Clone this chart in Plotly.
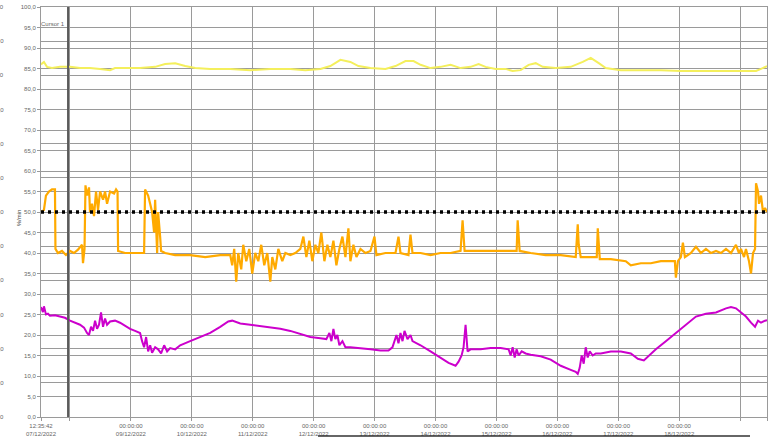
import numpy as np
import pandas as pd
import plotly.graph_objects as go

# time axis values are "day of December 2022" (fractional)
start_time = "2022-12-07 12:35:42"
end_time = "2022-12-19 10:34:00"
cursor_time = "2022-12-07 23:15:00"
limit_value = 50.0

yellow_day = [7.524, 7.573, 7.623, 7.705, 7.836, 8.001, 8.165, 8.329, 8.494, 8.658, 8.740, 8.905,
              9.151, 9.398, 9.562, 9.727, 9.891, 10.055, 10.302, 10.631, 10.959, 11.288, 11.617,
              11.863, 12.110, 12.274, 12.439, 12.603, 12.735, 12.932, 13.178, 13.343, 13.507,
              13.639, 13.754, 13.918, 14.082, 14.247, 14.411, 14.575, 14.707, 14.822, 14.986,
              15.150, 15.265, 15.397, 15.528, 15.644, 15.759, 15.973, 16.219, 16.416, 16.548,
              16.679, 16.794, 17.041, 17.370, 17.698, 18.027, 18.356, 18.685, 19.013, 19.260,
              19.342, 19.441]
yellow_val = [86.0, 86.6, 85.4, 85.1, 85.4, 85.4, 85.1, 85.1, 84.9, 84.6, 85.1, 85.1,
              85.1, 85.4, 86.1, 86.3, 85.6, 85.1, 84.9, 84.9, 84.6, 84.9, 84.9,
              84.6, 84.9, 85.6, 87.1, 86.6, 85.6, 85.1, 84.9, 85.6, 86.8,
              86.8, 85.9, 85.1, 85.4, 85.9, 85.1, 85.4, 86.1, 85.4, 84.9,
              84.9, 84.4, 84.6, 85.9, 86.3, 85.4, 85.1, 85.4, 86.6, 87.6,
              86.3, 85.1, 84.6, 84.6, 84.6, 84.4, 84.4, 84.4, 84.4, 84.4,
              84.9, 85.6]

orange_day = [7.524, 7.573, 7.606, 7.655, 7.705, 7.754, 7.762, 7.803, 7.869, 7.935, 8.001, 8.066,
              8.132, 8.198, 8.214, 8.239, 8.255, 8.280, 8.313, 8.329, 8.362, 8.395, 8.428, 8.461,
              8.494, 8.543, 8.576, 8.609, 8.658, 8.724, 8.757, 8.781, 8.790, 8.905, 9.069, 9.217,
              9.233, 9.283, 9.316, 9.348, 9.381, 9.398, 9.431, 9.447, 9.480, 9.496, 9.562, 9.727,
              9.973, 10.220, 10.466, 10.631, 10.663, 10.696, 10.729, 10.762, 10.811, 10.844,
              10.894, 10.943, 10.992, 11.041, 11.091, 11.140, 11.189, 11.239, 11.288, 11.321,
              11.370, 11.420, 11.485, 11.535, 11.617, 11.699, 11.781, 11.831, 11.880, 11.929,
              11.978, 12.028, 12.077, 12.126, 12.176, 12.225, 12.274, 12.324, 12.373, 12.422,
              12.472, 12.521, 12.570, 12.603, 12.652, 12.702, 12.768, 12.850, 12.932, 12.998,
              13.030, 13.178, 13.343, 13.392, 13.425, 13.556, 13.589, 13.622, 13.754, 13.918,
              14.082, 14.247, 14.411, 14.444, 14.477, 14.740, 15.068, 15.331, 15.348, 15.381,
              15.562, 15.808, 16.055, 16.301, 16.334, 16.350, 16.383, 16.548, 16.646, 16.663,
              16.696, 16.877, 17.123, 17.205, 17.370, 17.534, 17.698, 17.928, 17.945, 17.978,
              18.027, 18.060, 18.093, 18.192, 18.274, 18.356, 18.438, 18.521, 18.603, 18.685,
              18.767, 18.849, 18.931, 18.980, 19.013, 19.063, 19.095, 19.145, 19.178, 19.211,
              19.244, 19.260, 19.293, 19.309, 19.342, 19.375, 19.408, 19.441]
orange_val = [50, 50.5, 54, 55, 55.5, 55.5, 41, 40, 40.5, 39.5, 40.5, 40,
              40.8, 42, 37.5, 41, 56.5, 54, 56, 50, 52, 49, 55, 50.5,
              55, 53, 55, 52, 55, 54.5, 55.5, 55, 40.5, 40, 40, 40,
              55.5, 54, 52, 50, 45, 53, 40, 50, 44, 40.5, 40, 39.5,
              39.5, 39, 39.5, 39.5, 37, 41, 33, 40, 36, 42,
              38, 41, 35, 40, 38, 42, 37, 40, 33, 39,
              36, 41, 38, 40, 39.5, 40, 41, 44, 39, 43,
              38, 42, 40, 45, 38, 42, 39, 43, 37, 41,
              44, 39, 46, 38, 42, 39, 41, 40, 40.5, 44,
              39.5, 40, 40, 44, 40, 39.5, 44.5, 40, 40, 39.5,
              40, 40, 40.5, 48, 40.5, 40.5, 40.5, 40.5, 48, 40.5,
              40, 39.5, 39.5, 39, 47, 42, 39, 39, 39, 46,
              38.5, 38.5, 38, 37, 37.5, 37.5, 38, 38, 34, 38,
              39, 42.5, 39, 40, 41.5, 40, 41, 40, 40.5, 40,
              41, 40, 42, 40, 41, 39, 41, 38, 35, 40,
              41, 57, 55, 52, 54, 50, 51, 50]

magenta_day = [7.524, 7.557, 7.573, 7.606, 7.639, 7.672, 7.754, 7.836, 7.918, 8.001, 8.083, 8.165,
               8.231, 8.280, 8.313, 8.346, 8.379, 8.412, 8.445, 8.477, 8.510, 8.543, 8.576, 8.609,
               8.658, 8.740, 8.822, 8.905, 8.987, 9.069, 9.151, 9.184, 9.217, 9.250, 9.283, 9.316,
               9.348, 9.398, 9.447, 9.496, 9.546, 9.595, 9.644, 9.727, 9.809, 9.973, 10.137,
               10.302, 10.466, 10.598, 10.663, 10.795, 10.959, 11.124, 11.288, 11.452, 11.617,
               11.781, 11.945, 12.110, 12.208, 12.258, 12.291, 12.324, 12.356, 12.389, 12.422,
               12.472, 12.521, 12.603, 12.768, 12.932, 13.096, 13.228, 13.293, 13.359, 13.392,
               13.425, 13.458, 13.491, 13.540, 13.589, 13.622, 13.688, 13.754, 13.918, 14.082,
               14.214, 14.329, 14.378, 14.428, 14.460, 14.493, 14.526, 14.575, 14.740, 14.904,
               15.068, 15.200, 15.233, 15.266, 15.299, 15.331, 15.364, 15.414, 15.479, 15.562,
               15.726, 15.890, 16.055, 16.219, 16.301, 16.334, 16.366, 16.399, 16.432, 16.465,
               16.498, 16.531, 16.580, 16.630, 16.712, 16.877, 17.041, 17.205, 17.320, 17.419,
               17.501, 17.616, 17.780, 17.945, 18.109, 18.274, 18.438, 18.603, 18.767, 18.849,
               18.931, 19.013, 19.095, 19.178, 19.244, 19.293, 19.342, 19.408, 19.441]
magenta_val = [26.8, 25.6, 27, 25, 25.2, 24.7, 24.8, 24.5, 24.2, 23.5, 23, 22.5,
               21.8, 20.5, 20, 22, 21, 23.5, 21.5, 22.5, 25.5, 22, 24, 22.5,
               23.3, 23.5, 23, 22.2, 21.5, 21, 20.5, 18.5, 17, 19.5, 16, 17.5,
               15.7, 17, 16.5, 15.5, 17.5, 16, 16.8, 16.5, 17.5, 18.5, 19.5,
               20.5, 22, 23.3, 23.5, 22.8, 22.5, 22.2, 21.8, 21.5, 21,
               20.2, 19.5, 19.2, 19, 20.5, 18.5, 21.5, 19, 20, 17.5,
               18.5, 17, 17, 16.8, 16.5, 16.2, 16.2, 17, 20, 18,
               20.5, 18.5, 21, 19, 20, 18.5, 18, 17.5, 16, 14.5,
               13.2, 12.5, 13.5, 15, 17, 22.5, 16, 16.5, 16.5, 16.8,
               16.8, 16.5, 15, 17, 14.5, 16.5, 15, 16, 15.5, 15.2,
               14.8, 14, 12.5, 11.5, 11, 10.5, 12, 15, 13, 17,
               14.5, 16, 15, 15.5, 15.5, 16, 16, 15.5, 14.2, 13.8,
               15, 16.5, 18.5, 20.5, 22.5, 24.5, 25.2, 25.5, 26.5, 26.8,
               26.5, 25.5, 24.5, 23, 22, 23.5, 23, 23.5, 23.6]

# left (cut off) second scale
second_scale = [0, 10, 20, 30, 40, 50, 60, 70, 80, 90, 100, 110, 120]

tick_days = ["2022-12-%02d" % d for d in range(8, 20)]
tick_text = ["12:35:42<br>07/12/2022", ""] + \
            ["00:00:00<br>%02d/12/2022" % d for d in range(9, 19)] + \
            ["", "10:34<br>19/12/2022"]


def to_time(days):
    return pd.Timestamp("2022-12-01") + pd.to_timedelta(np.array(days) - 1, unit="D")


grid = "#9a9a9a"
small = dict(family="Liberation Sans, Arial, sans-serif", size=6, color="#666666")

fig = go.Figure()
fig.add_trace(go.Scatter(x=to_time(yellow_day), y=yellow_val, mode="lines",
                         line=dict(color="#f4ef5c", width=2)))
fig.add_trace(go.Scatter(x=to_time(orange_day), y=orange_val, mode="lines",
                         line=dict(color="#ffaa00", width=2.2)))
fig.add_trace(go.Scatter(x=to_time(magenta_day), y=magenta_val, mode="lines",
                         line=dict(color="#cc00cc", width=2)))
fig.add_trace(go.Scatter(x=[start_time, end_time], y=[limit_value, limit_value], mode="lines",
                         line=dict(color="black", width=3.5, dash="3px,4px")))
# invisible trace to create the second scale's grid
fig.add_trace(go.Scatter(x=[start_time], y=[0], yaxis="y2", mode="markers",
                         marker=dict(opacity=0), hoverinfo="skip"))

fig.add_vline(x=cursor_time, line=dict(color="#5a5a5a", width=2))
fig.add_annotation(x=cursor_time, y=95.9, text="Cursor 1", showarrow=False,
                   xanchor="right", xshift=-1, font=small)

for v in second_scale:
    fig.add_annotation(xref="paper", yref="y2", x=-0.048, y=v / 10, text="%d,0" % v,
                       showarrow=False, xanchor="right", font=small)
fig.add_annotation(xref="paper", yref="y", x=-0.037, y=48.5, text="%/min", textangle=-90,
                   showarrow=False, font=dict(family=small["family"], size=6, color="#444"))

fig.add_shape(type="line", xref="paper", yref="paper", x0=0.3815, x1=0.9766, y0=-0.0463,
              y1=-0.0463, line=dict(color="#333333", width=1.5))

fig.update_layout(
    width=769, height=437,
    margin=dict(l=41, r=2, t=7, b=20),
    paper_bgcolor="white", plot_bgcolor="white",
    showlegend=False,
    separators=",.",
    xaxis=dict(type="date", range=[start_time, end_time],
               tickvals=[start_time] + tick_days + [end_time], ticktext=tick_text,
               showgrid=True, gridcolor=grid, gridwidth=1, ticks="outside", ticklen=3,
               tickcolor=grid, tickfont=small, showline=True, linecolor=grid, mirror=True,
               zeroline=False, automargin=False),
    yaxis=dict(range=[0, 100], dtick=5, tickformat=".1f", showgrid=True, gridcolor=grid,
               gridwidth=1, ticks="outside", ticklen=3, tickcolor=grid, tickfont=small,
               showline=True, linecolor=grid, mirror=True, zeroline=False, automargin=False),
    yaxis2=dict(range=[0, 12], dtick=1, overlaying="y", showgrid=True, gridcolor=grid,
                gridwidth=1, showticklabels=False, zeroline=False, automargin=False),
)

fig.write_html("out.html", config={"displayModeBar": False},
               post_script="document.body.style.margin='0';")
